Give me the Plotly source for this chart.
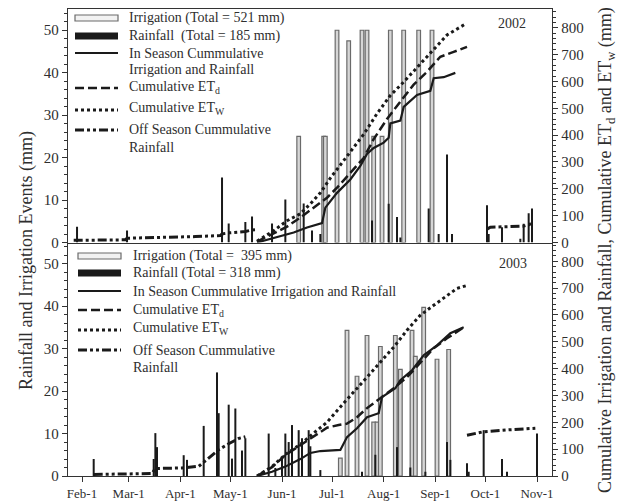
import plotly.graph_objects as go

# ---------------- 2002 (top panel) ----------------
irr02_dates = ["2002-06-11", "2002-06-26", "2002-06-27", "2002-07-04", "2002-07-11", "2002-07-19",
               "2002-07-22", "2002-07-26", "2002-07-31", "2002-08-05", "2002-08-13", "2002-08-22",
               "2002-08-30"]
irr02_mm = [25, 25, 25, 50, 47.5, 50, 50, 25, 25, 50, 50, 50, 50]

rain02_dates = ["2002-01-29", "2002-02-28", "2002-04-26", "2002-04-30", "2002-05-10", "2002-05-14",
                "2002-05-26", "2002-06-03", "2002-06-14", "2002-06-19", "2002-06-24", "2002-07-25",
                "2002-08-04", "2002-08-09", "2002-08-11", "2002-08-28", "2002-09-03", "2002-09-08",
                "2002-09-11", "2002-10-02", "2002-10-03", "2002-10-11", "2002-10-22", "2002-10-24",
                "2002-10-27", "2002-10-29"]
rain02_mm = [3.7, 2.8, 15.3, 4.5, 4.8, 6.1, 4.5, 10.1, 9.2, 2.8, 2.0, 5.2, 9.1, 6.0, 1.2, 8.0,
             2.0, 20.7, 2.0, 8.8, 2.0, 3.6, 0.9, 4.4, 6.9, 8.0]

off02a_dates = ["2002-01-27", "2002-02-27", "2002-02-28", "2002-03-20", "2002-04-10", "2002-04-25",
                "2002-04-26", "2002-04-30", "2002-05-10", "2002-05-14", "2002-05-16"]
off02a_mm = [8, 10, 16, 18, 22, 26, 32, 36, 41, 47, 48]

off02b_dates = ["2002-10-02", "2002-10-04", "2002-10-15", "2002-10-24", "2002-10-27", "2002-10-29"]
off02b_mm = [50, 57, 59, 61, 66, 72]

cum02_dates = ["2002-05-17", "2002-05-27", "2002-06-04", "2002-06-08", "2002-06-16", "2002-06-24",
               "2002-06-25", "2002-06-27", "2002-07-04", "2002-07-12", "2002-07-18", "2002-07-22",
               "2002-07-26", "2002-08-01", "2002-08-04", "2002-08-05", "2002-08-11", "2002-08-13",
               "2002-08-21", "2002-08-29", "2002-08-31", "2002-09-06", "2002-09-13"]
cum02_mm = [0, 18, 30, 37, 56, 68, 72, 130, 185, 235, 285, 330, 352, 372, 390, 444, 454, 505,
            550, 565, 612, 616, 632]

etd02_dates = ["2002-05-17", "2002-05-27", "2002-06-04", "2002-06-12", "2002-06-20", "2002-06-28",
               "2002-07-04", "2002-07-12", "2002-07-20", "2002-07-26", "2002-08-03", "2002-08-11",
               "2002-08-19", "2002-08-27", "2002-09-04", "2002-09-12", "2002-09-20"]
etd02_mm = [3, 33, 59, 93, 130, 167, 204, 259, 315, 385, 460, 525, 588, 636, 692, 710, 729]

etw02_dates = ["2002-05-17", "2002-05-27", "2002-06-04", "2002-06-12", "2002-06-18", "2002-06-24",
               "2002-06-30", "2002-07-06", "2002-07-12", "2002-07-20", "2002-07-28", "2002-08-05",
               "2002-08-13", "2002-08-23", "2002-08-31", "2002-09-08", "2002-09-19"]
etw02_mm = [5, 44, 81, 107, 144, 185, 240, 290, 340, 403, 480, 548, 598, 666, 722, 773, 814]

# ---------------- 2003 (bottom panel) ----------------
irr03_dates = ["2003-07-06", "2003-07-10", "2003-07-16", "2003-07-22", "2003-07-26", "2003-07-28",
               "2003-07-30", "2003-08-08", "2003-08-11", "2003-08-18", "2003-08-20", "2003-08-25",
               "2003-09-02", "2003-09-09"]
irr03_mm = [4.2, 34.3, 23.5, 33.1, 12.7, 12.7, 30.5, 33.1, 25.1, 34.3, 28.2, 39.7, 27.5, 29.8]

rain03_dates = ["2003-02-08", "2003-03-16", "2003-03-17", "2003-03-18", "2003-04-03", "2003-04-05",
                "2003-04-15", "2003-04-23", "2003-04-24", "2003-04-30", "2003-05-02", "2003-05-04",
                "2003-05-08", "2003-05-10", "2003-05-24", "2003-05-28", "2003-06-01", "2003-06-03",
                "2003-06-05", "2003-06-07", "2003-06-11", "2003-06-13", "2003-06-17", "2003-06-18",
                "2003-06-24", "2003-07-19", "2003-07-27", "2003-08-09", "2003-08-17", "2003-08-26",
                "2003-09-08", "2003-09-10", "2003-09-20", "2003-09-21", "2003-09-30", "2003-10-11",
                "2003-10-14", "2003-11-01"]
rain03_mm = [4.0, 4.0, 10.1, 6.8, 4.9, 3.8, 11.8, 24.4, 14.8, 16.8, 4.1, 15.9, 6.0, 8.9, 10.0,
             1.9, 4.0, 10.0, 8.0, 12.0, 10.8, 8.9, 10.8, 7.0, 1.4, 1.0, 5.0, 6.8, 2.0, 1.0, 8.0,
             3.8, 3.0, 1.0, 10.8, 4.0, 1.0, 10.0]

off03a_dates = ["2003-02-08", "2003-03-15", "2003-03-17", "2003-04-02", "2003-04-12", "2003-04-18",
                "2003-04-24", "2003-04-30", "2003-05-06", "2003-05-10"]
off03a_mm = [6, 9, 28, 30, 36, 68, 98, 120, 140, 146]

off03b_dates = ["2003-09-20", "2003-09-30", "2003-10-15", "2003-10-31"]
off03b_mm = [152, 165, 172, 178]

cum03_dates = ["2003-05-17", "2003-05-26", "2003-06-03", "2003-06-12", "2003-06-18", "2003-06-24",
               "2003-07-06", "2003-07-10", "2003-07-16", "2003-07-22", "2003-07-29", "2003-07-31",
               "2003-08-08", "2003-08-11", "2003-08-18", "2003-08-25", "2003-09-02", "2003-09-10",
               "2003-09-18"]
cum03_mm = [0, 16, 35, 63, 86, 93, 97, 145, 178, 219, 234, 294, 327, 357, 394, 450, 487, 532, 554]

etd03_dates = ["2003-05-17", "2003-05-26", "2003-06-03", "2003-06-12", "2003-06-20", "2003-06-28",
               "2003-07-05", "2003-07-10", "2003-07-16", "2003-07-22", "2003-07-30", "2003-08-07",
               "2003-08-15", "2003-08-23", "2003-08-31", "2003-09-08", "2003-09-18"]
etd03_mm = [0, 33, 78, 115, 150, 180, 190, 195, 219, 253, 290, 327, 368, 424, 476, 513, 554]

etw03_dates = ["2003-05-17", "2003-05-26", "2003-06-03", "2003-06-12", "2003-06-20", "2003-06-28",
               "2003-07-06", "2003-07-14", "2003-07-22", "2003-07-30", "2003-08-07", "2003-08-15",
               "2003-08-23", "2003-08-31", "2003-09-08", "2003-09-14", "2003-09-20"]
etw03_mm = [0, 35, 80, 118, 160, 200, 257, 312, 368, 424, 480, 543, 599, 636, 673, 699, 710]

# ---------------- ticks ----------------
month_ticks = ["02-01", "03-01", "04-01", "05-01", "06-01", "07-01", "08-01", "09-01", "10-01", "11-01"]
month_labels = ["Feb-1", "Mar-1", "Apr-1", "May-1", "Jun-1", "Jul-1", "Aug-1", "Sep-1", "Oct-1", "Nov-1"]
left_ticks = [0, 10, 20, 30, 40, 50]
right_ticks = [0, 100, 200, 300, 400, 500, 600, 700, 800]

legend02 = ["Irrigation (Total = 521 mm)", "Rainfall\u00a0 (Total = 185 mm)",
            "In Season Cummulative", "Irrigation and Rainfall",
            "Cumulative ET<sub>d</sub>", "Cumulative ET<sub>W</sub>",
            "Off Season Cummulative", "Rainfall"]
legend03 = ["Irrigation (Total = \u00a0395 mm)", "Rainfall (Total = 318 mm)",
            "In Season Cummulative Irrigation and Rainfall",
            "Cumulative ET<sub>d</sub>", "Cumulative ET<sub>W</sub>",
            "Off Season Cummulative", "Rainfall"]

# ---------------- styles ----------------
INK = "#1a1a1a"
TXT = "#2e2e2e"
DAY = 86400000
IRR_FILL, IRR_LINE = "#d6d6d6", "#6a6a6a"
DASH_ETD = "9px,4px"
DASH_OFF = "9px,3px,3px,3px,3px,3px"
FONT = "Liberation Serif"

fig = go.Figure()


def add_panel(xa, ya_l, ya_r, irr_d, irr_v, rain_d, rain_v, offs, cum, etd, etw):
    fig.add_trace(go.Bar(x=irr_d, y=irr_v, width=2.2 * DAY, xaxis=xa, yaxis=ya_l,
                         marker=dict(color=IRR_FILL, line=dict(color=IRR_LINE, width=1.2))))
    fig.add_trace(go.Bar(x=rain_d, y=rain_v, width=1.2 * DAY, xaxis=xa, yaxis=ya_l,
                         marker=dict(color=INK, line=dict(width=0))))
    for d, v in offs:
        fig.add_trace(go.Scatter(x=d, y=v, mode="lines", xaxis=xa, yaxis=ya_r,
                                 line=dict(color=INK, width=3, dash=DASH_OFF)))
    fig.add_trace(go.Scatter(x=etw[0], y=etw[1], mode="lines", xaxis=xa, yaxis=ya_r,
                             line=dict(color=INK, width=3, dash="dot")))
    fig.add_trace(go.Scatter(x=etd[0], y=etd[1], mode="lines", xaxis=xa, yaxis=ya_r,
                             line=dict(color=INK, width=2.5, dash=DASH_ETD)))
    fig.add_trace(go.Scatter(x=cum[0], y=cum[1], mode="lines", xaxis=xa, yaxis=ya_r,
                             line=dict(color=INK, width=2.2)))


add_panel("x", "y", "y2", irr02_dates, irr02_mm, rain02_dates, rain02_mm,
          [(off02a_dates, off02a_mm), (off02b_dates, off02b_mm)],
          (cum02_dates, cum02_mm), (etd02_dates, etd02_mm), (etw02_dates, etw02_mm))
add_panel("x2", "y3", "y4", irr03_dates, irr03_mm, rain03_dates, rain03_mm,
          [(off03a_dates, off03a_mm), (off03b_dates, off03b_mm)],
          (cum03_dates, cum03_mm), (etd03_dates, etd03_mm), (etw03_dates, etw03_mm))

AX = dict(showgrid=False, zeroline=False, showline=True, linecolor="#333", linewidth=1.4,
          tickcolor="#333", automargin=False,
          tickfont=dict(size=15, color=TXT, family=FONT))
left_ax = dict(AX, range=[0, 55], tickvals=left_ticks, ticktext=[str(t) for t in left_ticks],
               ticks="outside", ticklen=5,
               minor=dict(dtick=2, ticks="outside", ticklen=3, tickcolor="#333"))
right_ax = dict(AX, range=[0, 870], tickvals=right_ticks, ticktext=[str(t) for t in right_ticks],
                ticks="outside", ticklen=5, side="right",
                minor=dict(dtick=20, ticks="outside", ticklen=3, tickcolor="#333"))

# the page body adds an 8px offset, so the figure is 8px smaller than the window
fig.update_layout(
    width=617, height=494, margin=dict(l=60, r=73, t=1, b=26, autoexpand=False),
    paper_bgcolor="white", plot_bgcolor="white", showlegend=False, barmode="overlay",
    font=dict(family=FONT, size=14, color=TXT),
    xaxis=dict(AX, domain=[0, 1], anchor="y", type="date", mirror=True,
               range=["2002-01-23 14:00", "2002-11-10"], showticklabels=False, ticks=""),
    xaxis2=dict(AX, domain=[0, 1], anchor="y3", type="date",
                range=["2003-01-23 14:00", "2003-11-10"],
                tickvals=["2003-" + m for m in month_ticks], ticktext=month_labels,
                ticks="outside", ticklen=5, tickfont=dict(size=13, color=TXT, family=FONT)),
    yaxis=dict(left_ax, domain=[0.5, 1], anchor="x"),
    yaxis2=dict(right_ax, overlaying="y", anchor="x"),
    yaxis3=dict(left_ax, domain=[0, 0.5], anchor="x2"),
    yaxis4=dict(right_ax, overlaying="y3", anchor="x2"),
)


# helpers: window pixel -> paper fraction (plot area spans x 68..552, y 9..476 in the window)
def px(x):
    return (x - 68) / 484


def py(y):
    return (476 - y) / 467


shapes = []
annots = []


def legend(x0, x1, xt, rows, texts):
    for kind, y in rows:
        if kind == "irr":
            shapes.append(dict(type="rect", xref="paper", yref="paper", x0=px(x0), x1=px(x1),
                               y0=py(y + 3), y1=py(y - 3), fillcolor="#f2f2f2",
                               line=dict(color=IRR_LINE, width=1.2)))
        elif kind == "rain":
            shapes.append(dict(type="rect", xref="paper", yref="paper", x0=px(x0), x1=px(x1),
                               y0=py(y + 3.5), y1=py(y - 3.5), fillcolor=INK, line=dict(width=0)))
        else:
            style = {"solid": dict(width=2.2), "etd": dict(width=2.5, dash=DASH_ETD),
                     "etw": dict(width=3, dash="dot"), "off": dict(width=3, dash=DASH_OFF)}[kind]
            shapes.append(dict(type="line", xref="paper", yref="paper", x0=px(x0), x1=px(x1),
                               y0=py(y), y1=py(y), line=dict(color=INK, **style)))
    for t, y in texts:
        annots.append(dict(text=t, x=px(xt), y=py(y), xref="paper", yref="paper",
                           xanchor="left", yanchor="middle", showarrow=False,
                           font=dict(size=14, color=TXT, family=FONT)))


legend(75, 118, 127,
       [("irr", 18), ("rain", 36), ("solid", 53), ("etd", 88), ("etw", 110), ("off", 130)],
       list(zip(legend02, [18, 36, 53, 70, 88, 108, 130, 147])))
legend(78, 121, 131,
       [("irr", 256), ("rain", 273), ("solid", 291), ("etd", 310), ("etw", 330), ("off", 350)],
       list(zip(legend03, [256, 273, 291, 310, 328, 350, 367])))


def label(text, x, y, size, angle=0):
    annots.append(dict(text=text, x=px(x), y=py(y), xref="paper", yref="paper", showarrow=False,
                       xanchor="center", yanchor="middle", textangle=angle,
                       font=dict(size=size, color=TXT, family=FONT)))


label("2002", 512, 23, 14)
label("2003", 513, 263, 14)
label("Rainfall and Irrigation Events (mm)", 26, 261, 18, -90)
label("Cumulative Irrigation and Rainfall, Cumulative ET<sub>d</sub> and ET<sub>w</sub> (mm)",
      606, 250, 18, -90)

fig.update_layout(shapes=shapes, annotations=annots)
fig.write_html("out.html")
